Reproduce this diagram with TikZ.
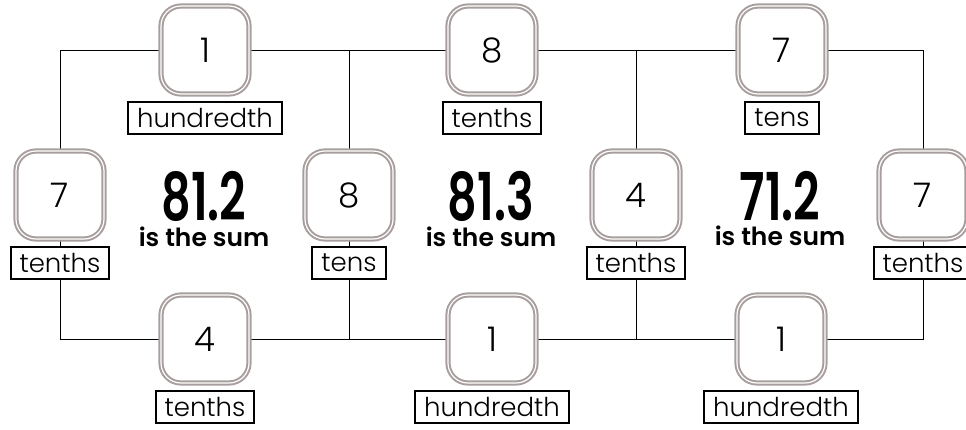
\documentclass[tikz,border=0pt]{standalone}
\usepackage{fontspec}
\setmainfont{Poppins}
\newfontfamily\thinfont{Poppins Light}
\newfontfamily\semifont{Poppins SemiBold}
\newfontfamily\sumfont[FakeStretch=0.7]{Poppins SemiBold}
\usetikzlibrary{positioning,backgrounds}
\definecolor{boxgray}{RGB}{168,158,158}
\tikzset{
  numbox/.style={draw=boxgray, line width=2pt, double=white, double distance=1.2pt,
    fill=white, rounded corners=20pt, minimum size=88pt, inner sep=0pt,
    font=\thinfont\fontsize{34}{34}\selectfont},
  placebox/.style={draw, line width=2pt, fill=white, minimum height=32pt,
    inner xsep=9pt, inner ysep=0pt, font=\thinfont\fontsize{26}{26}\selectfont},
  sumnum/.style={font=\sumfont\fontsize{66}{66}\selectfont, inner sep=0pt},
  sumtxt/.style={font=\semifont\fontsize{25}{25}\selectfont, inner sep=0pt}
}
\begin{document}
\begin{tikzpicture}[x=1pt, y=-1pt]
      \useasboundingbox (0,0) rectangle (966,429);
      \draw
        (205,50) node[numbox] (t1){1}
        (492,50) node[numbox] (t2){8}
        (782,50) node[numbox] (t3){7}
        (60,195) node[numbox] (m1){7}
        (349,195) node[numbox] (m2){8}
        (636,195) node[numbox] (m3){4}
        (923,195) node[numbox] (m4){7}
        (205,339) node[numbox] (b1){4}
        (492,339) node[numbox] (b2){1}
        (781,339) node[numbox] (b3){1};
      \node[placebox, below=6pt of t1] (lt1){hundredth};
      \node[placebox, below=6pt of t2] (lt2){tenths};
      \node[placebox, below=6pt of t3] (lt3){tens};
      \node[placebox, below=6pt of m1] (lm1){tenths};
      \node[placebox, below=6pt of m2] (lm2){tens};
      \node[placebox, below=6pt of m3] (lm3){tenths};
      \node[placebox, below=6pt of m4] (lm4){tenths};
      \node[placebox, below=6pt of b1] (lb1){tenths};
      \node[placebox, below=6pt of b2] (lb2){hundredth};
      \node[placebox, below=6pt of b3] (lb3){hundredth};
      % sums
      \node[sumnum] (s1) at (204,196) {81.2};
      \node[sumnum] (s2) at (491,196) {81.3};
      \node[sumnum] (s3) at (780,196) {71.2};
      \node[sumtxt, below=5pt of s1] (w1){is the sum};
      \node[sumtxt, below=5pt of s2] (w2){is the sum};
      \node[sumtxt, below=5pt of s3] (w3){is the sum};
      \begin{scope}[on background layer, line width=2.2pt]
        \draw (m1) |- (t1) -- (t2) -- (t3) -| (m4);
        \draw (m1) |- (b1) -- (b2) -- (b3) -| (m4);
        \draw (t1 -| m2) -- (b1 -| m2);
        \draw (t1 -| m3) -- (b1 -| m3);
      \end{scope}
    \end{tikzpicture}
\end{document}
